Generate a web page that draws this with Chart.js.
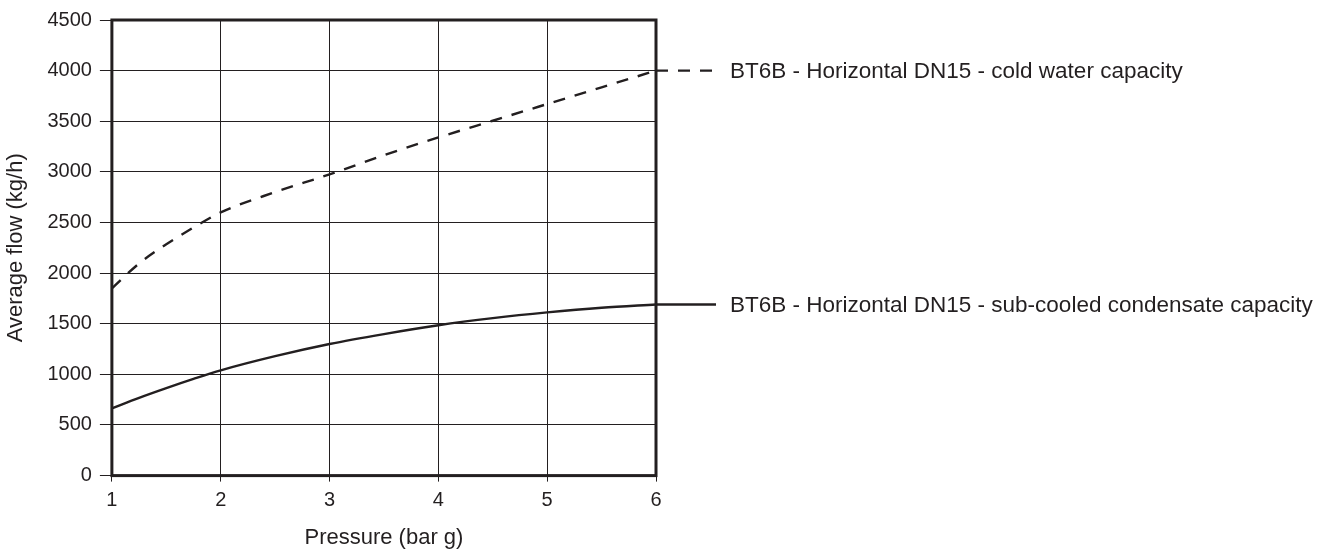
<!DOCTYPE html>
<html>
<head>
<meta charset="utf-8">
<script src="https://cdn.jsdelivr.net/npm/chart.js@4"></script>
<style>
  html, body { margin: 0; padding: 0; background: #fff; }
  #wrap { width: 1332px; height: 549px; }
</style>
</head>
<body>
<div id="wrap"><canvas id="flow-chart"></canvas></div>
<script>
// pressure (bar g) sample points
const pressure = [1, 1.25, 1.5, 1.75, 2, 2.5, 3, 3.5, 4, 4.5, 5, 5.5, 6];
// average flow kg/h
const coldWater = [1850, 2095, 2285, 2450, 2600, 2800, 2975, 3165, 3340, 3505, 3670, 3835, 4000];
const subCooled = [665, 768, 864, 955, 1040, 1180, 1300, 1398, 1485, 1555, 1612, 1658, 1690];

const seriesLabels = [
  "BT6B - Horizontal DN15 - cold water capacity",
  "BT6B - Horizontal DN15 - sub-cooled condensate capacity"
];

const INK = "#231f20";
const FONT = "'Liberation Sans', Arial, sans-serif";

function toPoints(values) {
  return values.map((v, i) => ({ x: pressure[i], y: v }));
}

// frame + right hand labels with their leader lines
const framePlugin = {
  id: "frameAndLabels",
  afterDraw(chart) {
    const { ctx, chartArea: a } = chart;
    ctx.save();
    ctx.strokeStyle = INK;
    ctx.lineWidth = 3;
    ctx.strokeRect(a.left, a.top, a.right - a.left, a.bottom - a.top);

    ctx.font = "22.5px " + FONT;
    ctx.fillStyle = INK;
    ctx.textBaseline = "middle";
    chart.data.datasets.forEach((ds) => {
      const last = ds.data[ds.data.length - 1];
      const y = chart.scales.y.getPixelForValue(last.y);
      ctx.lineWidth = 2.4;
      ctx.setLineDash(ds.borderDash || []);
      ctx.beginPath();
      ctx.moveTo(a.right, y);
      ctx.lineTo(a.right + 60, y);
      ctx.stroke();
      ctx.setLineDash([]);
      ctx.fillText(ds.label, a.right + 74, y + 1);
    });
    ctx.restore();
  }
};

new Chart(document.getElementById("flow-chart"), {
  type: "line",
  data: {
    datasets: [
      {
        label: seriesLabels[0],
        data: toPoints(coldWater),
        borderColor: INK,
        borderWidth: 2.4,
        borderDash: [12, 10],
        pointRadius: 0,
        cubicInterpolationMode: "monotone"
      },
      {
        label: seriesLabels[1],
        data: toPoints(subCooled),
        borderColor: INK,
        borderWidth: 2.4,
        pointRadius: 0,
        cubicInterpolationMode: "monotone"
      }
    ]
  },
  options: {
    responsive: true,
    maintainAspectRatio: false,
    animation: false,
    layout: { padding: { top: 15.5, right: 676, bottom: -2, left: 3 } },
    plugins: { legend: { display: false }, tooltip: { enabled: false } },
    scales: {
      x: {
        type: "linear",
        min: 1,
        max: 6,
        ticks: { stepSize: 1, color: INK, font: { family: FONT, size: 20 }, padding: 7 },
        grid: { color: INK, lineWidth: 1, tickLength: 6 },
        border: { display: false },
        title: { display: true, text: "Pressure (bar g)", color: INK, font: { family: FONT, size: 22 }, padding: { top: 5, bottom: 0 } }
      },
      y: {
        min: 0,
        max: 4500,
        ticks: {
          stepSize: 500,
          color: INK,
          font: { family: FONT, size: 20 },
          padding: 8,
          callback: (value) => String(value)
        },
        grid: { color: INK, lineWidth: 1, tickLength: 12 },
        border: { display: false },
        title: { display: true, text: "Average flow (kg/h)", color: INK, font: { family: FONT, size: 22 }, padding: { top: 0, bottom: 10 } }
      }
    }
  },
  plugins: [framePlugin]
});
</script>
</body>
</html>
